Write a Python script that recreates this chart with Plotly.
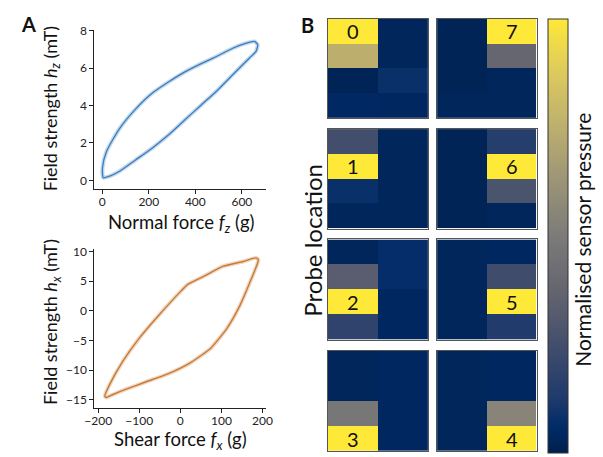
import plotly.graph_objects as go

W, H = 603, 457

# ---------------- Panel A data ----------------
normal_force = [1, 18, 74, 144, 214, 284, 353, 423, 493, 563, 619, 654, 668,
                661, 633, 563, 493, 423, 353, 284, 214, 144, 74, 32, 4, 1]
field_hz = [0.70, 1.54, 2.77, 3.82, 4.65, 5.25, 5.78, 6.22, 6.63, 7.07, 7.33, 7.42, 7.25,
            6.89, 6.54, 5.67, 4.79, 4.00, 3.21, 2.42, 1.72, 1.10, 0.49, 0.23, 0.14, 0.70]

shear_force = [-184, -172, -140, -101, -53, 2, 18, 58, 105, 153, 184, 190,
               188, 169, 145, 113, 74, 26, -29, -85, -132, -164, -180, -184]
field_hx = [-14.4, -12.4, -8.5, -4.7, -0.8, 3.35, 4.45, 5.84, 7.5, 8.3, 8.9, 8.6,
            8.0, 4.7, 0.87, -3.0, -6.3, -8.7, -10.6, -12.0, -13.2, -14.1, -14.6, -14.4]

top_xticks = [0, 200, 400, 600]
top_yticks = [0, 2, 4, 6, 8]
bot_xticks = [-200, -100, 0, 100, 200]
bot_yticks = [-15, -10, -5, 0, 5, 10]

# ---------------- Panel B data (normalised pressure, 4 rows x 2 cols) ----------------
probe_0 = [[1.00, 0.03], [0.75, 0.03], [0.02, 0.08], [0.05, 0.04]]
probe_1 = [[0.25, 0.03], [1.00, 0.03], [0.08, 0.03], [0.03, 0.03]]
probe_2 = [[0.03, 0.07], [0.33, 0.07], [1.00, 0.04], [0.18, 0.04]]
probe_3 = [[0.03, 0.04], [0.03, 0.04], [0.48, 0.04], [1.00, 0.04]]
probe_4 = [[0.03, 0.04], [0.03, 0.04], [0.03, 0.55], [0.03, 1.00]]
probe_5 = [[0.03, 0.04], [0.03, 0.24], [0.03, 1.00], [0.03, 0.13]]
probe_6 = [[0.02, 0.15], [0.02, 1.00], [0.02, 0.28], [0.02, 0.03]]
probe_7 = [[0.02, 1.00], [0.02, 0.38], [0.02, 0.03], [0.03, 0.03]]
probe_labels = ["0", "1", "2", "3", "4", "5", "6", "7"]

probe_maps = [probe_0, probe_1, probe_2, probe_3, probe_4, probe_5, probe_6, probe_7]
probe_pos = [(0, 0), (1, 0), (2, 0), (3, 0), (3, 1), (2, 1), (1, 1), (0, 1)]

cividis = [[0.0, "#00204d"], [0.06, "#002b68"], [0.12, "#1d396c"], [0.25, "#434e6c"],
           [0.375, "#656570"], [0.5, "#7c7b78"], [0.625, "#9b9477"], [0.75, "#bcaf6e"],
           [0.875, "#dcc95e"], [1.0, "#fee838"]]

FONT = "Lato"
BLUE = "#3b7dbf"
ORANGE = "#c97b36"

fig = go.Figure()

def px(x):
    return x / W

def py(y):
    return 1 - y / H

# ---------- Panel A traces ----------
fig.add_trace(go.Scatter(x=normal_force, y=field_hz, mode="lines",
                         line=dict(color=BLUE, width=4, shape="spline", smoothing=0.6),
                         opacity=0.3, xaxis="x", yaxis="y", showlegend=False))
fig.add_trace(go.Scatter(x=normal_force, y=field_hz, mode="lines",
                         line=dict(color=BLUE, width=1.3, shape="spline", smoothing=0.6),
                         xaxis="x", yaxis="y", showlegend=False))
fig.add_trace(go.Scatter(x=shear_force, y=field_hx, mode="lines",
                         line=dict(color=ORANGE, width=4, shape="spline", smoothing=0.5),
                         opacity=0.3, xaxis="x2", yaxis="y2", showlegend=False))
fig.add_trace(go.Scatter(x=shear_force, y=field_hx, mode="lines",
                         line=dict(color=ORANGE, width=1.4, shape="spline", smoothing=0.5),
                         xaxis="x2", yaxis="y2", showlegend=False))

axis_common = dict(showline=True, linecolor="#222", linewidth=1, mirror=False,
                   ticks="outside", ticklen=3.5, tickcolor="#222", showgrid=False,
                   zeroline=False, tickfont=dict(family=FONT, size=12, color="#222"))

layout = dict(
    width=W, height=H, margin=dict(l=0, r=0, t=0, b=0),
    paper_bgcolor="white", plot_bgcolor="white",
    font=dict(family=FONT, color="#111"),
    xaxis=dict(domain=[px(87), px(264)], range=[-36.5, 705.7], tickvals=top_xticks,
               anchor="y", ticklabelstandoff=-2, **axis_common),
    yaxis=dict(domain=[py(185), py(23)], range=[-0.47, 8.05], tickvals=top_yticks,
               anchor="x", **axis_common),
    xaxis2=dict(domain=[px(87), px(264)], range=[-210.7, 209.7], tickvals=bot_xticks,
                anchor="y2", ticklabelstandoff=-2, **axis_common),
    yaxis2=dict(domain=[py(407.7), py(245.7)], range=[-16.45, 10.41], tickvals=bot_yticks,
                anchor="x2", **axis_common),
    coloraxis=dict(colorscale=cividis, cmin=0, cmax=1,
                   colorbar=dict(x=px(553), xanchor="left", xref="paper",
                                 y=py(12), yanchor="top", len=(453 - 12) / H,
                                 lenmode="fraction", thickness=20, thicknessmode="pixels",
                                 xpad=0, ypad=0,
                                 outlinecolor="#333", outlinewidth=1,
                                 showticklabels=False, ticks="")),
)

col_x = [(327, 430), (439, 541)]
row_y = [(12, 113), (124, 225), (236, 338), (349, 451)]

for i, (z, lab, (r, c)) in enumerate(zip(probe_maps, probe_labels, probe_pos)):
    n = i + 3
    xa, ya = f"x{n}", f"y{n}"
    fig.add_trace(go.Heatmap(z=z, coloraxis="coloraxis", xaxis=xa, yaxis=ya,
                             hoverinfo="skip", xgap=0, ygap=0))
    for ri, row in enumerate(z):
        for ci, v in enumerate(row):
            if v >= 0.999:
                fig.add_annotation(text=lab, x=ci, y=ri, xref=xa, yref=ya,
                                   showarrow=False, xanchor="center", yanchor="middle",
                                   font=dict(family=FONT, size=20, color="#111"))
    frame = dict(showline=True, mirror=True, linecolor="#555", linewidth=1,
                 showticklabels=False, ticks="", showgrid=False, zeroline=False)
    layout[f"xaxis{n}"] = dict(domain=[px(col_x[c][0]), px(col_x[c][1])], range=[-0.5, 1.5],
                               anchor=ya, **frame)
    layout[f"yaxis{n}"] = dict(domain=[py(row_y[r][1]), py(row_y[r][0])], range=[3.5, -0.5],
                               anchor=xa, **frame)

fig.update_layout(**layout)

def ann(text, x, y, size, angle=0, bold=False):
    if bold:
        text = f"<b>{text}</b>"
    fig.add_annotation(text=text, x=px(x), y=py(y), xref="paper", yref="paper",
                       xanchor="center", yanchor="middle", showarrow=False,
                       textangle=angle, font=dict(family=FONT, size=size, color="#111"))

ann("A", 20, 17, 20, bold=True)
ann("B", 306, 18, 20, bold=True)
ann("Field strength <i>h</i><sub><i>z</i></sub> (mT)", 43, 103, 18, angle=-90)
ann("Normal force <i>f</i><sub><i>z</i></sub> (g)", 177, 220, 18.5)
ann("Field strength <i>h</i><sub><i>x</i></sub> (mT)", 43, 320, 18, angle=-90)
ann("Shear force <i>f</i><sub><i>x</i></sub> (g)", 176, 440, 18.5)
ann("Probe location", 311, 237, 24, angle=-90)
ann("Normalised sensor pressure", 588, 236, 21, angle=-90)

post = ("document.documentElement.style.margin='0';document.body.style.margin='0';"
        "document.body.style.overflow='hidden';"
        "var d=document.getElementById('{plot_id}');"
        "d.style.position='fixed';d.style.left='0px';d.style.top='0px';")

fig.write_html("out.html", config={"displayModeBar": False}, post_script=post)
